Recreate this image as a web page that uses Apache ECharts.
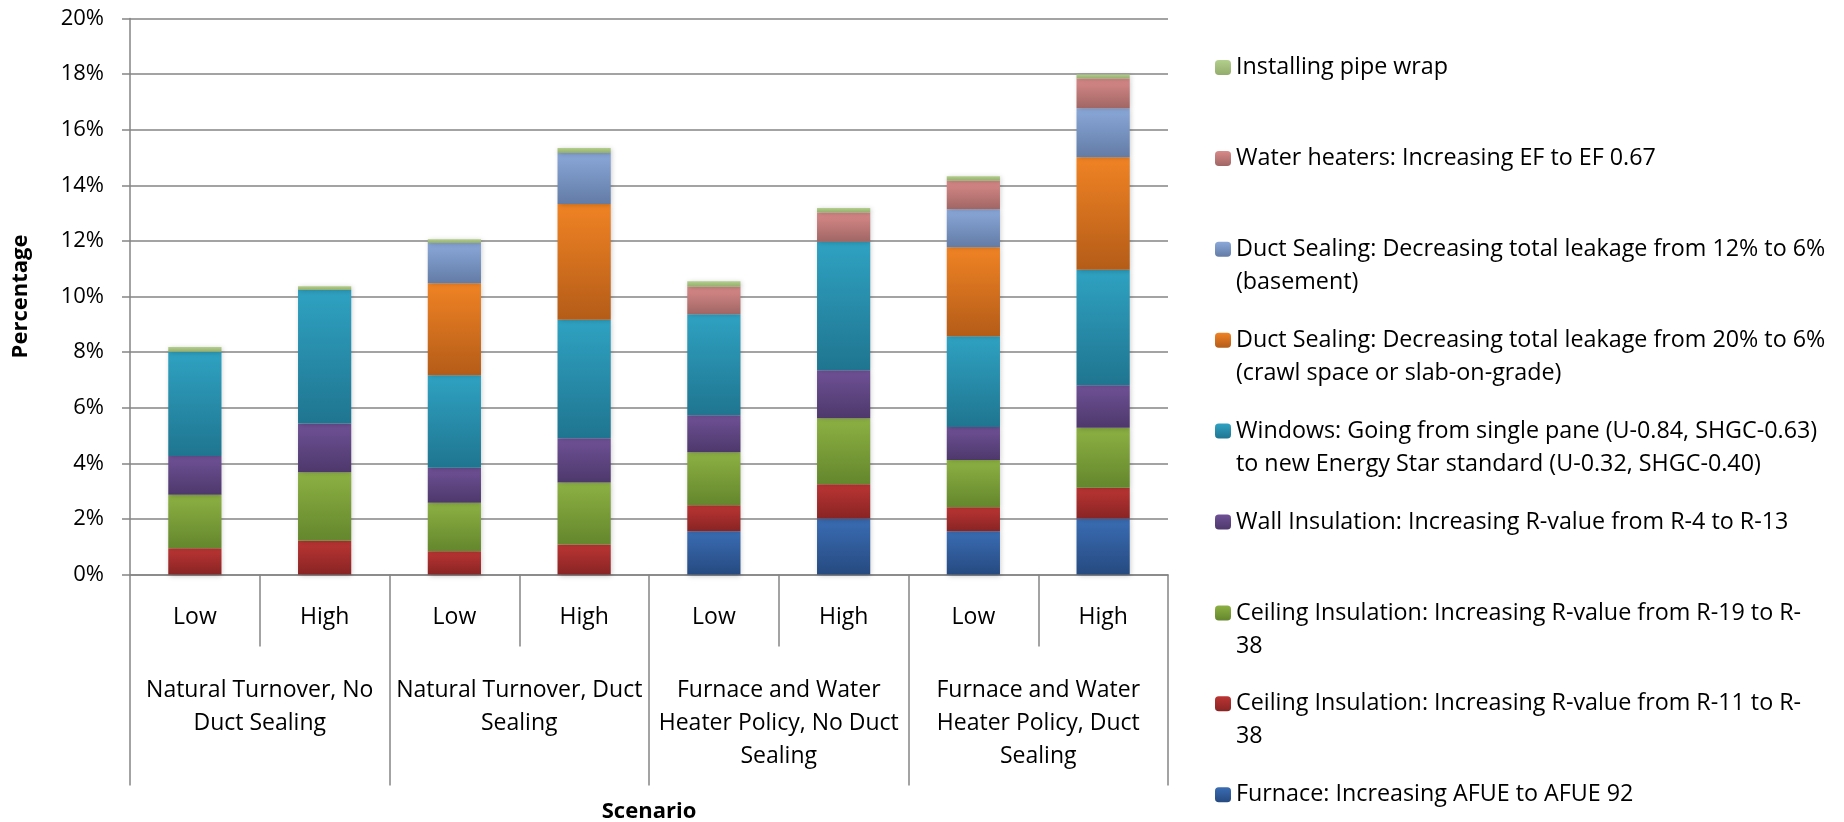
<!DOCTYPE html>
<html>
<head>
<meta charset="utf-8">
<title>Savings by scenario</title>
<script src="https://cdn.jsdelivr.net/npm/echarts@6/dist/echarts.min.js"></script>
<style>
  html, body { margin: 0; padding: 0; background: #ffffff; }
  #chart { width: 1844px; height: 822px; }
</style>
</head>
<body>
<div id="chart"></div>
<script>
// Scenario axis: inner level (Low / High) and outer level (policy scenario)
const levels = ['Low', 'High', 'Low', 'High', 'Low', 'High', 'Low', 'High'];
const scenarios = [
  'Natural Turnover, No\nDuct Sealing',
  'Natural Turnover, Duct\nSealing',
  'Furnace and Water\nHeater Policy, No Duct\nSealing',
  'Furnace and Water\nHeater Policy, Duct\nSealing'
];

// Percentage savings per measure (stack order, bottom to top)
const furnace      = [0, 0, 0, 0, 1.56, 2.01, 1.56, 2.01];
const ceilingR11   = [0.94, 1.21, 0.84, 1.08, 0.93, 1.24, 0.86, 1.11];
const ceilingR19   = [1.93, 2.47, 1.74, 2.23, 1.91, 2.37, 1.70, 2.16];
const wall         = [1.39, 1.75, 1.26, 1.59, 1.33, 1.73, 1.19, 1.53];
const windows      = [3.75, 4.80, 3.33, 4.26, 3.63, 4.62, 3.26, 4.15];
const ductCrawl    = [0, 0, 3.31, 4.17, 0, 0, 3.20, 4.05];
const ductBasement = [0, 0, 1.44, 1.83, 0, 0, 1.37, 1.76];
const waterHeaters = [0, 0, 0, 0, 0.99, 1.05, 1.02, 1.07];
const pipeWrap     = [0.17, 0.14, 0.14, 0.18, 0.20, 0.16, 0.17, 0.15];

const measureNames = [
  'Furnace: Increasing AFUE to AFUE 92',
  'Ceiling Insulation: Increasing R-value from R-11 to R-\n38',
  'Ceiling Insulation: Increasing R-value from R-19 to R-\n38',
  'Wall Insulation: Increasing R-value from R-4 to R-13',
  'Windows: Going from single pane (U-0.84, SHGC-0.63)\nto new Energy Star standard (U-0.32, SHGC-0.40)',
  'Duct Sealing: Decreasing total leakage from 20% to 6%\n(crawl space or slab-on-grade)',
  'Duct Sealing: Decreasing total leakage from 12% to 6%\n(basement)',
  'Water heaters: Increasing EF to EF 0.67',
  'Installing pipe wrap'
];
const measureValues = [furnace, ceilingR11, ceilingR19, wall, windows, ductCrawl, ductBasement, waterHeaters, pipeWrap];

// Shaded fills: light at the top of each segment, darker at the bottom
const shades = [
  ['#3a6db4', '#264a80'],
  ['#bb3533', '#882424'],
  ['#8db143', '#64862d'],
  ['#6f5196', '#4d386b'],
  ['#2fa2c2', '#1f7590'],
  ['#f08324', '#b45c18'],
  ['#8aa8d9', '#637ca6'],
  ['#d98a89', '#a06664'],
  ['#b3cf8c', '#93ad6c']
];

const FONT = '"Open Sans", "Noto Sans", sans-serif';
const GRID_LEFT = 130, GRID_RIGHT = 1168, GRID_TOP = 18.5, GRID_BOTTOM = 574.5;
const AXIS_GREY = '#858585';

const series = measureNames.map((name, i) => ({
  name: name,
  type: 'bar',
  stack: 'total',
  barWidth: '41%',
  data: measureValues[i],
  itemStyle: {
    color: new echarts.graphic.LinearGradient(0, 0, 0, 1, [
      { offset: 0, color: shades[i][0] },
      { offset: 1, color: shades[i][1] }
    ]),
    shadowColor: 'rgba(0,0,0,0.22)',
    shadowBlur: 5,
    shadowOffsetX: 1,
    shadowOffsetY: 1
  },
  emphasis: { disabled: true }
}));

// One legend block per measure, listed top to bottom from the top of the stack
const LEGEND_LEFT = 1215, LEGEND_FIRST = 67.5, LEGEND_STEP = 90.9, LINE_H = 33;
const legends = measureNames.slice().reverse().map((name, i) => {
  const twoLine = name.indexOf('\n') >= 0;
  const lines = twoLine ? 3 : 1;
  const centre = LEGEND_FIRST + i * LEGEND_STEP;
  return {
    data: [name],
    orient: 'vertical',
    left: LEGEND_LEFT,
    top: centre - lines * LINE_H / 2,
    padding: 0,
    itemWidth: 16,
    itemHeight: 15,
    itemGap: 0,
    selectedMode: false,
    formatter: n => (n.indexOf('\n') >= 0 ? '\u00a0\n' + n : n),
    textStyle: { fontFamily: FONT, fontSize: 23.3, lineHeight: LINE_H, color: '#000' }
  };
});

const chart = echarts.init(document.getElementById('chart'), null, { renderer: 'canvas' });
chart.setOption({
  backgroundColor: '#ffffff',
  animation: false,
  textStyle: { fontFamily: FONT },
  grid: {
    left: GRID_LEFT,
    right: 1844 - GRID_RIGHT,
    top: GRID_TOP,
    bottom: 822 - GRID_BOTTOM,
    containLabel: false,
    outerBoundsMode: 'none'
  },
  legend: legends,
  xAxis: [
    {
      type: 'category',
      data: levels,
      position: 'bottom',
      boundaryGap: true,
      axisLine: { show: true, lineStyle: { color: AXIS_GREY, width: 1.5 } },
      axisTick: { show: true, interval: 0, length: 72, lineStyle: { color: AXIS_GREY, width: 1.5 } },
      axisLabel: { interval: 0, margin: 26, fontFamily: FONT, fontSize: 23, lineHeight: LINE_H, color: '#000' }
    },
    {
      type: 'category',
      data: scenarios,
      position: 'bottom',
      boundaryGap: true,
      axisLine: { show: false },
      axisTick: { show: true, interval: 0, length: 211, lineStyle: { color: AXIS_GREY, width: 1.5 } },
      axisLabel: { interval: 0, margin: 99, fontFamily: FONT, fontSize: 23, lineHeight: LINE_H, color: '#000' },
      name: 'Scenario',
      nameLocation: 'middle',
      nameGap: 222,
      nameTextStyle: { fontFamily: FONT, fontSize: 22, fontWeight: 'bold', color: '#000', lineHeight: 30 }
    }
  ],
  yAxis: {
    type: 'value',
    min: 0,
    max: 20,
    interval: 2,
    name: 'Percentage',
    nameLocation: 'middle',
    nameGap: 98,
    nameTextStyle: { fontFamily: FONT, fontSize: 22, fontWeight: 'bold', color: '#000' },
    axisLine: { show: true, lineStyle: { color: AXIS_GREY, width: 1.5 } },
    axisTick: { show: true, length: 8, lineStyle: { color: AXIS_GREY, width: 1.5 } },
    axisLabel: { formatter: '{value}%', margin: 26, fontFamily: FONT, fontSize: 22, color: '#000' },
    splitLine: { show: true, lineStyle: { color: AXIS_GREY, width: 1.5 } }
  },
  series: series
});
</script>
</body>
</html>
